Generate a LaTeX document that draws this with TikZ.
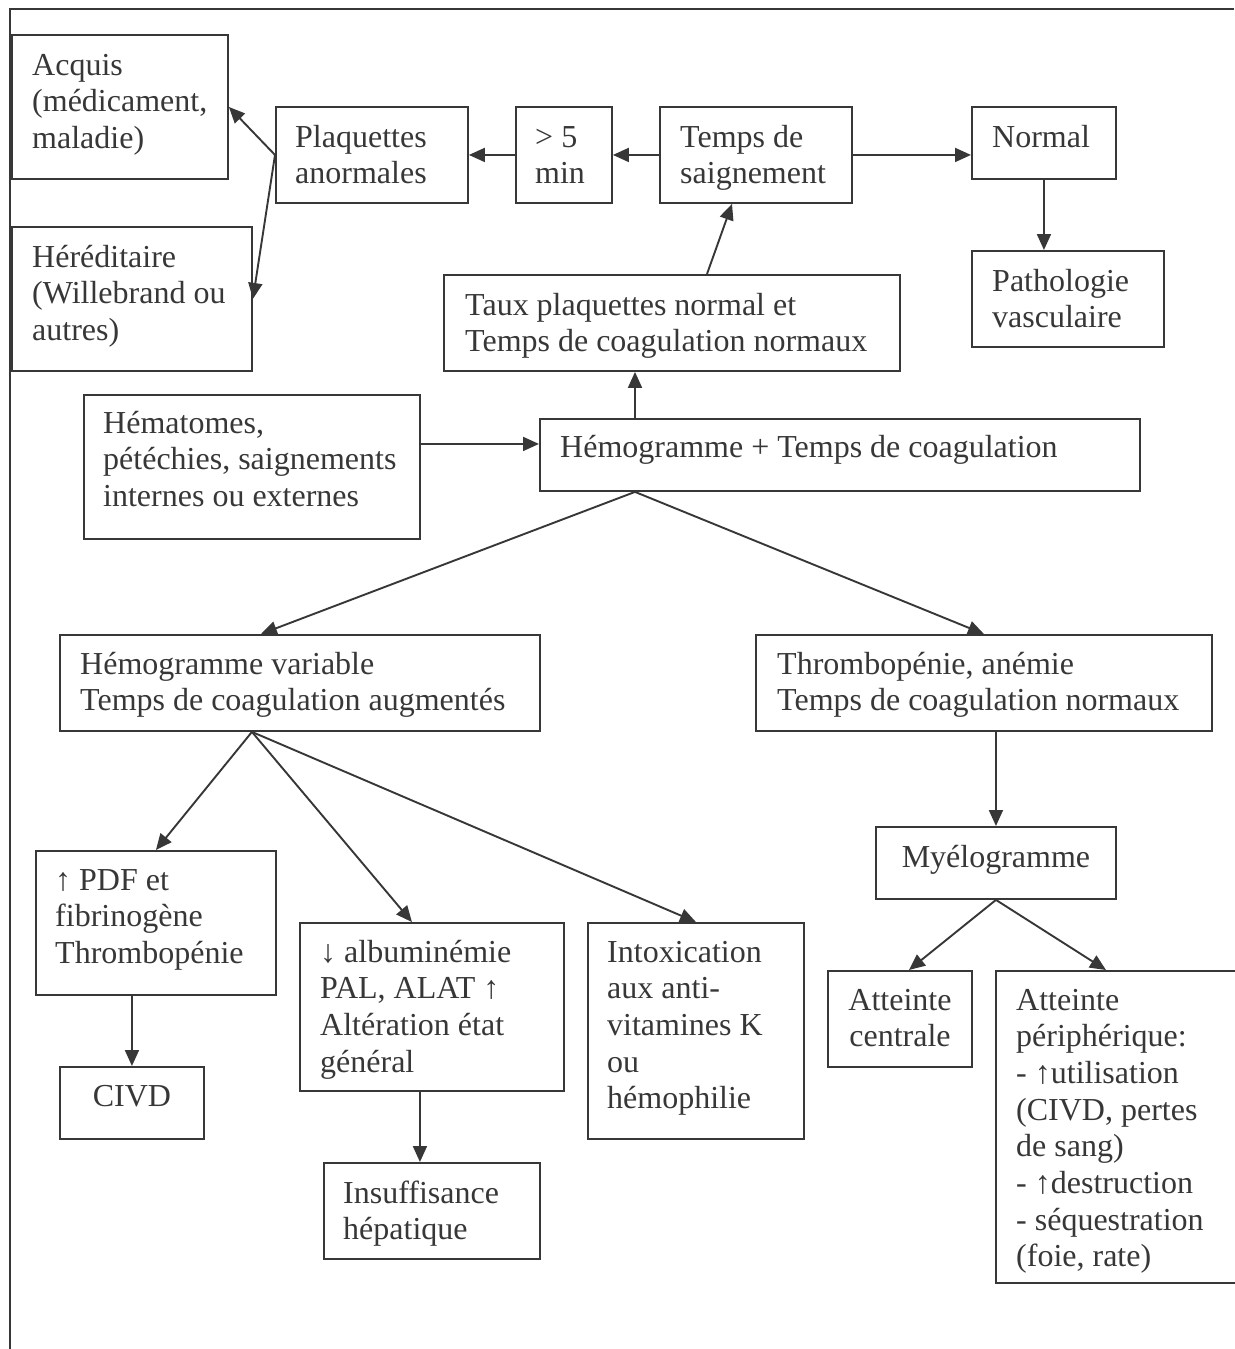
\documentclass[tikz,border=0pt]{standalone}
\usepackage{fontspec}
\setmainfont{Liberation Serif}
\usetikzlibrary{arrows.meta,calc}
\definecolor{ink}{RGB}{55,55,55}
\begin{document}
\begin{tikzpicture}[x=1pt,y=-1pt,
  box/.style={draw=ink,line width=1.9pt,inner sep=0pt,anchor=north west},
  txt/.style={inner sep=0pt,anchor=base west,text=ink,font=\fontsize{32}{36.7}\selectfont},
  ctxt/.style={txt,anchor=base},
  arr/.style={draw=ink,line width=1.9pt,-{Triangle[length=16pt,width=14pt]}},
  frame/.style={draw=ink,line width=2.2pt}]
\useasboundingbox (0,0) rectangle (1234,1349);
\newcommand\bx[5]{\node[box,minimum width=#4pt,minimum height=#5pt] (#1) at (#2,#3) {};}
\newcommand\lt[1]{\begin{tabular}[t]{@{}l@{}}#1\end{tabular}}
\newcommand\ct[1]{\begin{tabular}[t]{@{}c@{}}#1\end{tabular}}

% page frame
\coordinate (fb) at (10,1349);
\coordinate (ftl) at (10,9);
\coordinate (ftr) at (1234,9);
\draw[frame] (fb) -- (ftl) -- (ftr);

% boxes
\bx{acq}{11}{34}{216}{144}
\bx{her}{11}{226}{240}{144}
\bx{plq}{275}{106}{192}{96}
\bx{cinq}{515}{106}{96}{96}
\bx{ts}{659}{106}{192}{96}
\bx{nor}{971}{106}{144}{72}
\bx{path}{971}{250}{192}{96}
\bx{taux}{443}{274}{456}{96}
\bx{hem}{83}{394}{336}{144}
\bx{hg}{539}{418}{600}{72}
\bx{hv}{59}{634}{480}{96}
\bx{thr}{755}{634}{456}{96}
\bx{myl}{875}{826}{240}{72}
\bx{pdf}{35}{850}{240}{144}
\bx{civd}{59}{1066}{144}{72}
\bx{alb}{299}{922}{264}{168}
\bx{ins}{323}{1162}{216}{96}
\bx{intox}{587}{922}{216}{216}
\bx{ac}{827}{970}{144}{96}
\bx{ap}{995}{970}{264}{312}

% texts
\node[txt] (acq-t) at ($(acq.north west)+(21,41)$) {\lt{Acquis\\(médicament,\\maladie)}};
\node[txt] (her-t) at ($(her.north west)+(21,41)$) {\lt{Héréditaire\\(Willebrand ou\\autres)}};
\node[txt] (plq-t) at ($(plq.north west)+(20,41)$) {\lt{Plaquettes\\anormales}};
\node[txt] (cinq-t) at ($(cinq.north west)+(20,41)$) {\lt{> 5\\min}};
\node[txt] (ts-t) at ($(ts.north west)+(21,41)$) {\lt{Temps de\\saignement}};
\node[txt] (nor-t) at ($(nor.north west)+(21,41)$) {\lt{Normal}};
\node[txt] (path-t) at ($(path.north west)+(21,41)$) {\lt{Pathologie\\vasculaire}};
\node[txt] (taux-t) at ($(taux.north west)+(22,41)$) {\lt{Taux plaquettes normal et\\Temps de coagulation normaux}};
\node[txt] (hem-t) at ($(hem.north west)+(20,39)$) {\lt{Hématomes,\\pétéchies, saignements\\internes ou externes}};
\node[txt] (hg-t) at ($(hg.north west)+(21,39)$) {\lt{Hémogramme + Temps de coagulation}};
\node[txt] (hv-t) at ($(hv.north west)+(21,40)$) {\lt{Hémogramme variable\\Temps de coagulation augmentés}};
\node[txt] (thr-t) at ($(thr.north west)+(22,40)$) {\lt{Thrombopénie, anémie\\Temps de coagulation normaux}};
\node[ctxt] (myl-t) at ($(myl.north)+(0,41)$) {\ct{Myélogramme}};
\node[txt] (pdf-t) at ($(pdf.north west)+(20,40)$) {\lt{↑ PDF et\\fibrinogène\\Thrombopénie}};
\node[ctxt] (civd-t) at ($(civd.north)+(0,40)$) {\ct{CIVD}};
\node[txt] (alb-t) at ($(alb.north west)+(21,40)$) {\lt{↓ albuminémie\\PAL, ALAT ↑\\Altération état\\général}};
\node[txt] (ins-t) at ($(ins.north west)+(20,41)$) {\lt{Insuffisance\\hépatique}};
\node[txt] (intox-t) at ($(intox.north west)+(20,40)$) {\lt{Intoxication\\aux anti-\\vitamines K\\ou\\hémophilie}};
\node[ctxt] (ac-t) at ($(ac.north)+(0,40)$) {\ct{Atteinte\\centrale}};
\node[txt] (ap-t) at ($(ap.north west)+(21,40)$) {\lt{Atteinte\\périphérique:\\- ↑utilisation\\(CIVD, pertes\\de sang)\\- ↑destruction\\- séquestration\\(foie, rate)}};

% connector end points
\coordinate (tauxo) at ($(taux.north west)+(264,0)$);
\coordinate (tsi) at ($(ts.south west)+(73,0)$);
\coordinate (hgo) at ($(hg.north west)+(96,0)$);
\coordinate (hgb) at ($(hg.south west)+(96,0)$);
\coordinate (hemo) at ($(hem.east)+(0,-23)$);
\coordinate (hvb) at ($(hv.south)+(-48,0)$);
\coordinate (hvi) at ($(hv.north)+(-39,0)$);
\coordinate (albi) at ($(alb.north)+(-20,0)$);
\coordinate (inso) at ($(ins.north)+(-12,0)$);
\coordinate (aci) at ($(ac.north)+(9,0)$);
\coordinate (api) at ($(ap.north west)+(111,0)$);

% connectors
\draw[arr] (ts.west) -- (cinq.east);
\draw[arr] (cinq.west) -- (plq.east);
\draw[arr] (ts.east) -- (ts.east -| nor.west);
\draw[arr] (plq.west) -- (acq.east);
\draw[arr] (plq.west) -- (her.east);
\draw[arr] (nor.south) -- (nor.south |- path.north);
\draw[arr] (tauxo) -- (tsi);
\draw[arr] (hgo) -- (hgo |- taux.south);
\draw[arr] (hemo) -- (hemo -| hg.west);
\draw[arr] (hgb) -- (hvi);
\draw[arr] (hgb) -- (thr.north);
\draw[arr] (hvb) -- (pdf.north);
\draw[arr] (hvb) -- (albi);
\draw[arr] (hvb) -- (intox.north);
\draw[arr] (civd.north |- pdf.south) -- (civd.north);
\draw[arr] (inso |- alb.south) -- (inso);
\draw[arr] (myl.north |- thr.south) -- (myl.north);
\draw[arr] (myl.south) -- (aci);
\draw[arr] (myl.south) -- (api);
\end{tikzpicture}
\end{document}
